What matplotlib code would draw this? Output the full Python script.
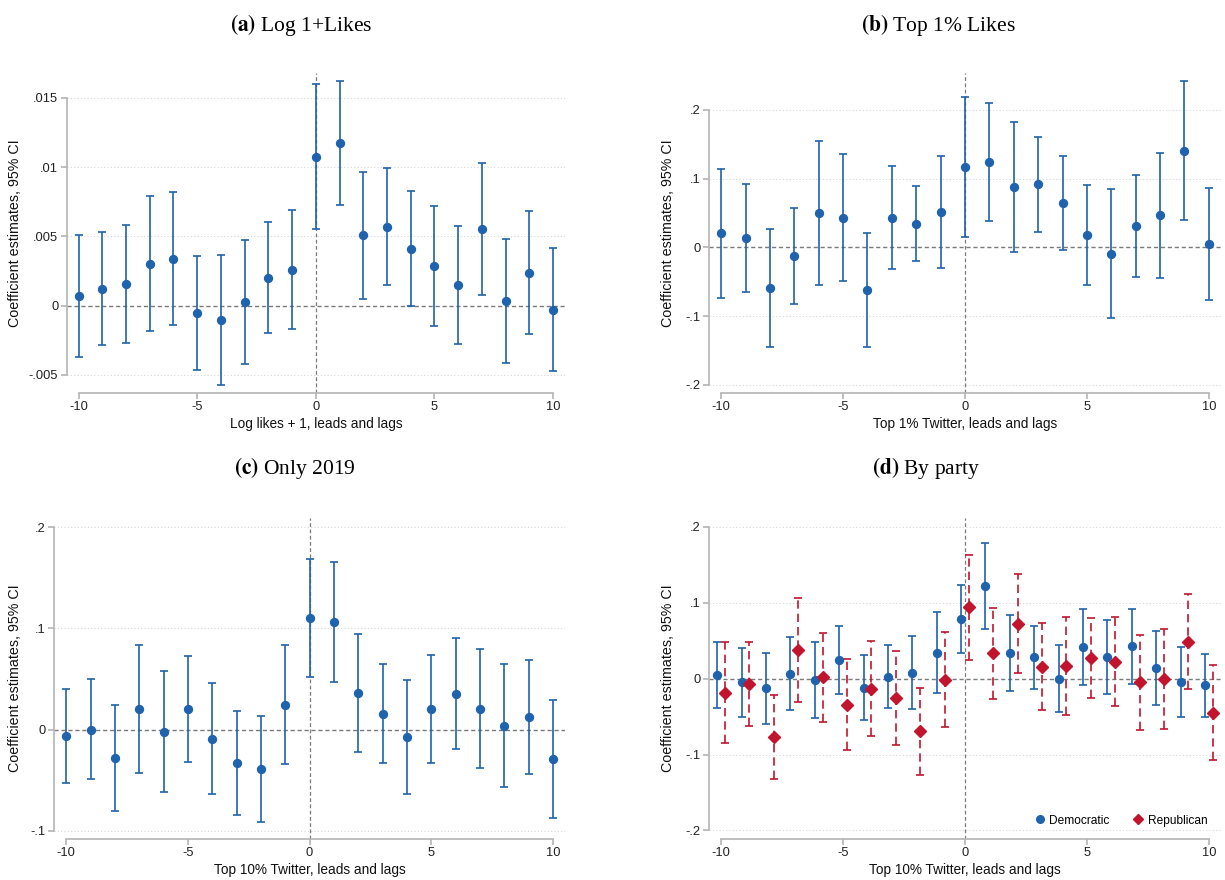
import matplotlib
matplotlib.use("Agg")
import matplotlib.pyplot as plt
from matplotlib.lines import Line2D

plt.rcParams['font.family'] = ['Liberation Sans', 'DejaVu Sans']
plt.rcParams['mathtext.fontset'] = 'stix'

# event-time leads and lags
lags = list(range(-10, 11))

# (a) Log 1+Likes
a_pt = [0.0007, 0.00123, 0.00154, 0.0030, 0.00337, -0.00055, -0.00103, 0.00026, 0.00202, 0.0026, 0.01075,
        0.01173, 0.00507, 0.0057, 0.00411, 0.00286, 0.00147, 0.00553, 0.00036, 0.00236, -0.00029]
a_lo = [-0.0037, -0.00286, -0.00267, -0.00185, -0.00142, -0.00464, -0.0057, -0.0042, -0.00197, -0.00166, 0.00553,
        0.00728, 0.0005, 0.00149, 0.0, -0.00147, -0.00276, 0.00077, -0.00416, -0.00207, -0.00471]
a_hi = [0.00512, 0.00531, 0.00579, 0.00788, 0.0082, 0.00356, 0.00363, 0.00474, 0.00603, 0.00688, 0.0160,
        0.0162, 0.00966, 0.0099, 0.00825, 0.00719, 0.00575, 0.01029, 0.00483, 0.0068, 0.00413]

# (b) Top 1% Likes
b_pt = [0.0203, 0.0136, -0.0591, -0.0126, 0.0494, 0.0426, -0.062, 0.0426, 0.0344, 0.0508, 0.1167,
        0.1235, 0.0877, 0.092, 0.0644, 0.0179, -0.0092, 0.031, 0.0465, 0.1404, 0.0048]
b_lo = [-0.0731, -0.0644, -0.1453, -0.0823, -0.0552, -0.0494, -0.1453, -0.032, -0.0203, -0.0305, 0.0155,
        0.0387, -0.0063, 0.0228, -0.0034, -0.0552, -0.1036, -0.0436, -0.0446, 0.0402, -0.076]
b_hi = [0.1138, 0.0925, 0.0271, 0.0576, 0.154, 0.1351, 0.0213, 0.1177, 0.0891, 0.1322, 0.2179,
        0.2092, 0.1816, 0.1608, 0.1332, 0.091, 0.0852, 0.1051, 0.1375, 0.2412, 0.0857]

# (c) Only 2019
c_pt = [-0.0069, 0.0, -0.0283, 0.0201, -0.0023, 0.0201, -0.0089, -0.0336, -0.0392, 0.0247, 0.110,
        0.1064, 0.0359, 0.0158, -0.0072, 0.0204, 0.0352, 0.0207, 0.0036, 0.0122, -0.0293]
c_lo = [-0.0533, -0.0494, -0.0803, -0.0431, -0.0619, -0.0319, -0.0636, -0.085, -0.0915, -0.0339, 0.0517,
        0.0474, -0.0224, -0.0329, -0.0636, -0.0329, -0.0194, -0.0379, -0.057, -0.0438, -0.0879]
c_hi = [0.0398, 0.05, 0.024, 0.0836, 0.0576, 0.0724, 0.0464, 0.0181, 0.0132, 0.0836, 0.1686,
        0.166, 0.0948, 0.0645, 0.0494, 0.0741, 0.0905, 0.08, 0.0649, 0.0685, 0.0296]

# (d) By party
dem_pt = [0.0044, -0.0048, -0.0127, 0.0061, -0.0022, 0.0246, -0.0119, 0.0026, 0.0079, 0.0342, 0.0786,
          0.1221, 0.0338, 0.0281, 0.0, 0.0417, 0.0281, 0.0426, 0.0136, -0.004, -0.0088]
dem_lo = [-0.0391, -0.05, -0.0593, -0.0417, -0.0523, -0.0202, -0.0544, -0.0382, -0.0404, -0.0189, 0.0338,
          0.0659, -0.0158, -0.0132, -0.0439, -0.0088, -0.0202, -0.007, -0.0351, -0.05, -0.0505]
dem_hi = [0.0479, 0.0404, 0.0338, 0.0549, 0.0479, 0.0698, 0.0307, 0.0439, 0.0558, 0.0874, 0.1229,
          0.1783, 0.0834, 0.0689, 0.0439, 0.0922, 0.0773, 0.0922, 0.0623, 0.0422, 0.0321]
rep_pt = [-0.0184, -0.0066, -0.0768, 0.0378, 0.0022, -0.0342, -0.0132, -0.0255, -0.0694, -0.0013, 0.0944,
          0.0334, 0.0724, 0.0158, 0.0167, 0.0268, 0.0224, -0.0048, -0.0004, 0.0487, -0.0448]
rep_lo = [-0.0847, -0.0623, -0.1322, -0.0303, -0.0571, -0.0944, -0.0755, -0.0869, -0.1265, -0.0637, 0.025,
          -0.0272, 0.0079, -0.0413, -0.0474, -0.0255, -0.0356, -0.0672, -0.0663, -0.014, -0.1071]
rep_hi = [0.0479, 0.0487, -0.0215, 0.1058, 0.0606, 0.0259, 0.0492, 0.036, -0.0127, 0.061, 0.1629,
          0.0935, 0.1374, 0.0729, 0.0808, 0.0795, 0.0808, 0.058, 0.0654, 0.1111, 0.018]

x_ticks = [-10, -5, 0, 5, 10]
a_yticks = [-0.005, 0, 0.005, 0.01, 0.015]
a_ylabels = ['-.005', '0', '.005', '.01', '.015']
b_yticks = [-0.2, -0.1, 0, 0.1, 0.2]
b_ylabels = ['-.2', '-.1', '0', '.1', '.2']
c_yticks = [-0.1, 0, 0.1, 0.2]
c_ylabels = ['-.1', '0', '.1', '.2']

BLUE = '#1f62ad'
RED = '#c1152d'
AXC = '#b4b4b4'
W, H = 1225, 880

fig = plt.figure(figsize=(W / 100, H / 100), dpi=100)


def make_axes(left, top, right, bottom):
    return fig.add_axes([left / W, 1 - bottom / H, (right - left) / W, (bottom - top) / H])


def style_axes(ax, ylim, yticks, ylabels):
    ax.set_xlim(-10.5, 10.5)
    ax.set_ylim(*ylim)
    ax.set_xticks(x_ticks)
    ax.set_xticklabels([str(t) for t in x_ticks])
    ax.set_yticks(yticks)
    ax.set_yticklabels(ylabels)
    for s in ['top', 'right']:
        ax.spines[s].set_visible(False)
    ax.spines['left'].set_bounds(min(yticks), max(yticks))
    ax.spines['bottom'].set_bounds(-10, 10)
    for s in ['left', 'bottom']:
        ax.spines[s].set_color(AXC)
        ax.spines[s].set_linewidth(1.2)
    ax.tick_params(colors=AXC, labelcolor='#222222', labelsize=9.3, length=4, width=1.2, pad=2)
    for t in yticks:
        if t != 0:
            ax.axhline(t, color='#d6d6d6', lw=0.8, ls=(0, (1, 2)), zorder=0)
    ax.axhline(0, color='#7a7a7a', lw=1.0, ls=(0, (3, 2)), zorder=1)
    ax.axvline(0, color='#7a7a7a', lw=0.9, ls=(0, (3, 2)), zorder=1)


def coef_plot(ax, x, pt, lo, hi, color, marker='o', dashed=False):
    err = [[p - l for p, l in zip(pt, lo)], [h - p for h, p in zip(hi, pt)]]
    line, caps, bars = ax.errorbar(x, pt, yerr=err, fmt=marker, color=color, ms=5.7,
                                   elinewidth=1.2, capsize=3, capthick=1.2, zorder=3)
    if dashed:
        bars[0].set_linestyle((0, (5, 3)))
    return line


ax_a = make_axes(66.7, 73, 565, 393)
style_axes(ax_a, (-0.0063, 0.01679), a_yticks, a_ylabels)
coef_plot(ax_a, lags, a_pt, a_lo, a_hi, BLUE)

ax_b = make_axes(709, 73, 1221, 393)
style_axes(ax_b, (-0.212, 0.2535), b_yticks, b_ylabels)
coef_plot(ax_b, lags, b_pt, b_lo, b_hi, BLUE)

ax_c = make_axes(54, 518, 565, 839)
style_axes(ax_c, (-0.1083, 0.2092), c_yticks, c_ylabels)
coef_plot(ax_c, lags, c_pt, c_lo, c_hi, BLUE)

ax_d = make_axes(709, 518, 1221, 839)
style_axes(ax_d, (-0.2112, 0.2117), b_yticks, b_ylabels)
off = 0.16
coef_plot(ax_d, [v - off for v in lags], dem_pt, dem_lo, dem_hi, BLUE)
coef_plot(ax_d, [v + off for v in lags], rep_pt, rep_lo, rep_hi, RED, marker='D', dashed=True)
handles = [Line2D([], [], marker='o', color=BLUE, ls='none', ms=5.5),
           Line2D([], [], marker='D', color=RED, ls='none', ms=5)]
ax_d.legend(handles, ['Democratic', 'Republican'], loc='lower right', bbox_to_anchor=(0.985, 0.02),
            ncol=2, frameon=False, fontsize=8.6, handlelength=0.8, handletextpad=0.4,
            columnspacing=2.0, borderpad=0)

# titles
title_kw = dict(ha='center', va='center', fontsize=15.5, family=['Liberation Serif', 'DejaVu Serif'])
fig.text(301 / W, 1 - 25 / H, r'$\mathbf{(a)}$ Log 1+Likes', **title_kw)
fig.text(938 / W, 1 - 25 / H, r'$\mathbf{(b)}$ Top 1% Likes', **title_kw)
fig.text(295 / W, 1 - 468 / H, r'$\mathbf{(c)}$ Only 2019', **title_kw)
fig.text(926 / W, 1 - 468 / H, r'$\mathbf{(d)}$ By party', **title_kw)

# axis titles
lab_kw = dict(ha='center', va='center', color='#111111')
ylab = 'Coefficient estimates, 95% CI'
fig.text(15 / W, 1 - 233 / H, ylab, rotation=90, fontsize=10.3, **lab_kw)
fig.text(668 / W, 1 - 233 / H, ylab, rotation=90, fontsize=10.3, **lab_kw)
fig.text(15 / W, 1 - 678 / H, ylab, rotation=90, fontsize=10.3, **lab_kw)
fig.text(668 / W, 1 - 678 / H, ylab, rotation=90, fontsize=10.3, **lab_kw)
fig.text(316 / W, 1 - 424 / H, 'Log likes + 1, leads and lags', fontsize=9.8, **lab_kw)
fig.text(965 / W, 1 - 424 / H, 'Top 1% Twitter, leads and lags', fontsize=9.8, **lab_kw)
fig.text(310 / W, 1 - 870 / H, 'Top 10% Twitter, leads and lags', fontsize=9.8, **lab_kw)
fig.text(965 / W, 1 - 870 / H, 'Top 10% Twitter, leads and lags', fontsize=9.8, **lab_kw)

fig.savefig('out.png', dpi=100, facecolor='white')
